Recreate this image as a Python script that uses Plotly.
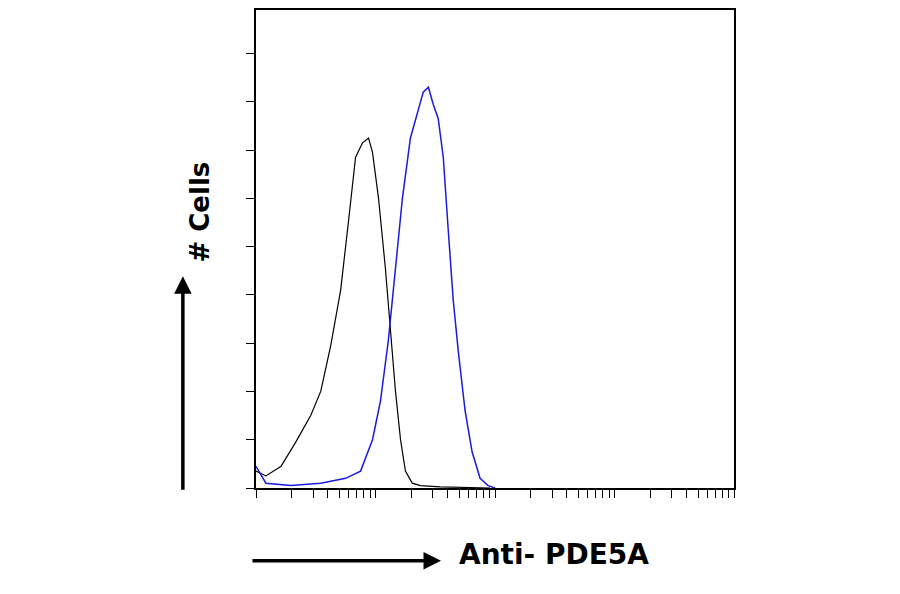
import plotly.graph_objects as go

black_x = [1.0, 1.21, 1.62, 2.15, 2.87, 3.48, 4.22, 5.11, 5.96, 6.81, 7.79, 8.74, 9.44, 10.6, 12.1, 13.3, 14.7, 16.2, 17.8, 20.3, 23.7, 34.8, 90.9]
black_y = [7, 5, 9, 19, 30, 40, 59, 82, 111, 137, 143, 145, 139, 120, 91, 66, 40, 20, 7, 2, 1, 0.5, 0]
blue_x = [1.0, 1.21, 1.96, 3.48, 5.62, 7.5, 9.44, 11.0, 12.8, 14.7, 16.8, 19.6, 22.8, 25.1, 27.7, 30.4, 33.5, 36.9, 40.6, 44.7, 49.2, 56.2, 64.3, 75.0, 87.5, 100]
blue_y = [9, 2, 1, 2, 4, 7, 20, 36, 61, 91, 120, 145, 157, 164, 166, 159, 153, 137, 107, 78, 57, 32, 15, 4, 1, 0]

fig = go.Figure()
fig.add_trace(go.Scatter(x=black_x, y=black_y, mode="lines", line=dict(color="black", width=1.2)))
fig.add_trace(go.Scatter(x=blue_x, y=blue_y, mode="lines", line=dict(color="#1a1adf", width=1.5)))

fig.update_layout(
    width=900, height=594, showlegend=False,
    plot_bgcolor="white", paper_bgcolor="white",
    margin=dict(l=248, r=174, t=0, b=114),
    xaxis=dict(type="log", range=[0, 4], showgrid=False, showticklabels=False,
               ticks="outside", ticklen=8, tickcolor="black", linecolor="black", linewidth=1.5,
               mirror=True, zeroline=False,
               tickvals=[m * 10**d for d in range(4) for m in range(1, 10)] + [10000]),
    yaxis=dict(range=[0, 198], showgrid=False, showticklabels=False, ticks="outside",
               ticklen=8, tickcolor="black", dtick=20, linecolor="black", linewidth=1.5,
               mirror=True, zeroline=False),
    font=dict(family="DejaVu Sans", size=26, color="black"),
)
fig.add_annotation(xref="paper", yref="paper", x=-0.153, y=0.443, ax=0, ay=215,
                   showarrow=True, arrowhead=2, arrowsize=1, arrowwidth=3.5, arrowcolor="black", text="")
fig.add_annotation(xref="paper", yref="paper", x=-0.153, y=0.578, showarrow=False,
                   text="<b># Cells</b>", textangle=-90, font=dict(size=26))
fig.add_annotation(xref="paper", yref="paper", x=0.387, y=-0.152, ax=-190, ay=0,
                   showarrow=True, arrowhead=2, arrowsize=1, arrowwidth=3.5, arrowcolor="black", text="")
fig.add_annotation(xref="paper", yref="paper", x=0.421, y=-0.178, xanchor="left", showarrow=False,
                   text="<b>Anti- PDE5A</b>", font=dict(size=28))
fig.write_html("out.html")
